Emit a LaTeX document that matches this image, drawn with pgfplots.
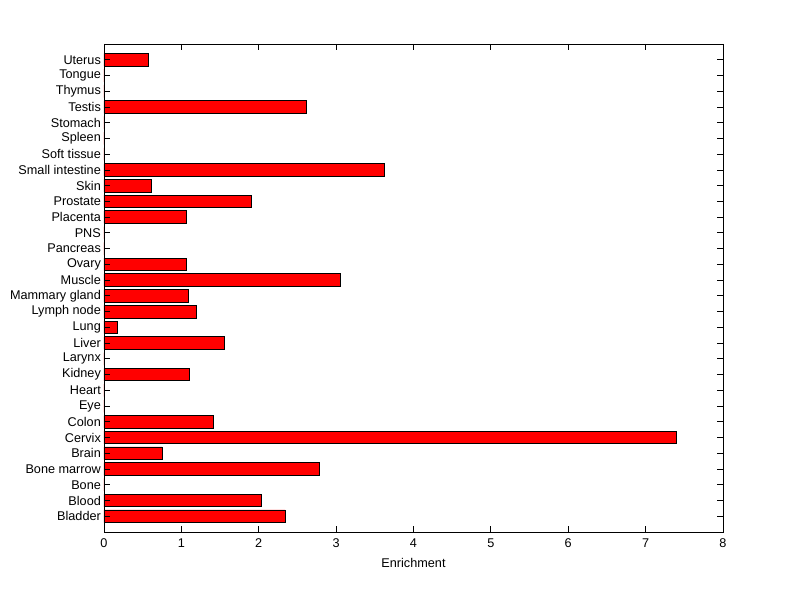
\documentclass[border=0pt]{standalone}
\usepackage{pgfplots}
\pgfplotsset{compat=1.18}
\usepackage{fontspec}
\setmainfont{Liberation Sans}
\begin{document}
\fontsize{9.5pt}{11pt}\selectfont
\begin{tikzpicture}
\path[use as bounding box] (-78pt,-50.25pt) rectangle (522pt,399pt);
\begin{axis}[
  scale only axis,
  width=464.25pt, height=366pt,
  xmin=0, xmax=8, ymin=0, ymax=31,
  xbar, bar width=0.8,
  xtick={0,1,...,8},
  ytick={1,...,30},
  yticklabels={Bladder,Blood,Bone,Bone marrow,Brain,Cervix,Colon,Eye,Heart,Kidney,Larynx,Liver,Lung,Lymph node,Mammary gland,Muscle,Ovary,Pancreas,PNS,Placenta,Prostate,Skin,Small intestine,Soft tissue,Spleen,Stomach,Testis,Thymus,Tongue,Uterus},
  tick align=inside,
  major tick length=4.5pt,
  tick style={black, line width=0.6pt},
  axis line style={black, line width=0.6pt},
  xlabel={Enrichment},
  xlabel style={yshift=-1pt},
  ticklabel style={font=\fontsize{9.5pt}{11pt}\selectfont},
  label style={font=\fontsize{9.5pt}{11pt}\selectfont},
  /pgf/number format/assume math mode=true,
  yticklabel style={xshift=1pt},
  xticklabel style={yshift=-2pt},
  axis on top,
]
\addplot[fill={rgb,255:red,255;green,0;blue,0}, draw=black, line width=0.6pt] coordinates {
(2.34,1) (2.03,2) (0,3) (2.78,4) (0.75,5) (7.40,6) (1.41,7) (0,8) (0,9) (1.10,10)
(0,11) (1.55,12) (0.17,13) (1.19,14) (1.09,15) (3.05,16) (1.06,17) (0,18) (0,19) (1.06,20)
(1.90,21) (0.61,22) (3.62,23) (0,24) (0,25) (0,26) (2.61,27) (0,28) (0,29) (0.57,30)
};
\end{axis}
\end{tikzpicture}
\end{document}
